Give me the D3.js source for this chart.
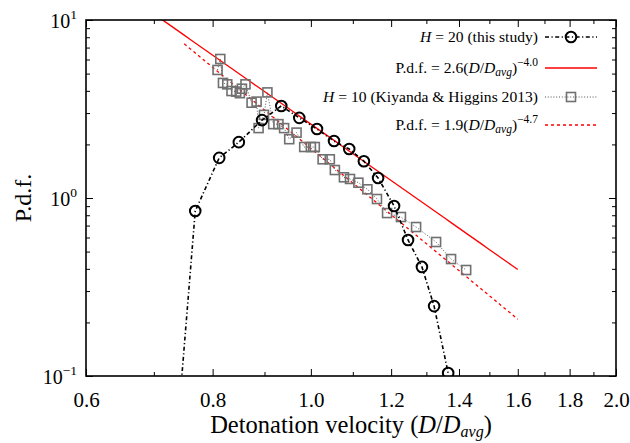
<!DOCTYPE html>
<html>
<head>
<meta charset="utf-8">
<script src="https://cdn.jsdelivr.net/npm/d3@7"></script>
<style>
  html, body { margin: 0; padding: 0; background: #fff; }
  svg { display: block; font-family: "Liberation Serif", "DejaVu Serif", serif; }
</style>
</head>
<body>
<svg id="chart" width="630" height="443"></svg>
<script>
// ---- data ----
const h20X = [0.73, 0.769, 0.812, 0.849, 0.895, 0.935, 0.974, 1.014, 1.054, 1.091, 1.128, 1.165, 1.208, 1.247, 1.287, 1.323, 1.366];
const h20Y = [0.022, 0.845, 1.68, 2.06, 2.74, 3.29, 2.82, 2.44, 2.09, 1.885, 1.61, 1.295, 0.902, 0.581, 0.41, 0.247, 0.104];

const h10X = [0.809, 0.814, 0.819, 0.827, 0.835, 0.844, 0.851, 0.855, 0.862, 0.874, 0.884, 0.888, 0.899, 0.906, 0.918, 0.929, 0.941, 0.952, 0.968, 0.985, 1.000, 1.009, 1.027, 1.044, 1.056, 1.078, 1.093, 1.114, 1.137, 1.162, 1.189, 1.227, 1.270, 1.329, 1.375, 1.423];
const h10Y = [5.24, 6.04, 4.43, 4.35, 3.99, 3.96, 3.88, 4.11, 4.35, 3.43, 3.48, 2.47, 2.93, 3.92, 2.60, 2.60, 2.47, 2.14, 2.33, 1.934, 1.934, 1.934, 1.65, 1.65, 1.436, 1.307, 1.279, 1.219, 1.119, 0.987, 0.823, 0.782, 0.687, 0.566, 0.454, 0.394];

// power-law fits: P.d.f. = a (D/Davg)^b
const fitA = { coef: 2.6, exp: -4.0, from: 0.70, to: 1.6 };
const fitB = { coef: 1.9, exp: -4.7, from: 0.75, to: 1.6 };

const xMajor = [0.6, 0.8, 1.0, 1.2, 1.4, 1.6, 1.8, 2.0];
const xMinor = [0.7, 0.9, 1.1, 1.3, 1.5, 1.7, 1.9];
const xTickLabels = ["0.6", "0.8", "1.0", "1.2", "1.4", "1.6", "1.8", "2.0"];
const yMajor = [0.1, 1, 10];
const yMinor = [0.2, 0.3, 0.4, 0.5, 0.6, 0.7, 0.8, 0.9, 2, 3, 4, 5, 6, 7, 8, 9];
const yTickExp = ["\u22121", "0", "1"];

const legendLabels = ["H = 20 (this study)", "P.d.f. = 2.6(D/Davg)^-4.0", "H = 10 (Kiyanda & Higgins 2013)", "P.d.f. = 1.9(D/Davg)^-4.7"];

// ---- layout ----
const L = 86, R = 616, T = 20, B = 376;
const svg = d3.select("#chart");
const x = d3.scaleLog().domain([0.6, 2.0]).range([L, R]);
const y = d3.scaleLog().domain([0.1, 10]).range([B, T]);

svg.append("defs").append("clipPath").attr("id", "clip")
  .append("rect").attr("x", L).attr("y", T).attr("width", R - L).attr("height", B - T);

const plot = svg.append("g").attr("clip-path", "url(#clip)");

// fit lines
function fitPts(f) {
  const n = 60, pts = [];
  for (let i = 0; i <= n; i++) {
    const v = Math.exp(Math.log(f.from) + (Math.log(f.to) - Math.log(f.from)) * i / n);
    pts.push([v, f.coef * Math.pow(v, f.exp)]);
  }
  return pts;
}
const line = d3.line().x(d => x(d[0])).y(d => y(d[1]));

plot.append("path").datum(fitPts(fitA)).attr("d", line)
  .attr("fill", "none").attr("stroke", "#ff0000").attr("stroke-width", 1.3);
plot.append("path").datum(fitPts(fitB)).attr("d", line)
  .attr("fill", "none").attr("stroke", "#ff0000").attr("stroke-width", 1.3)
  .attr("stroke-dasharray", "3,3");

// H=10 squares series
const h10 = h10X.map((v, i) => [v, h10Y[i]]);
plot.append("path").datum(h10).attr("d", line)
  .attr("fill", "none").attr("stroke", "#555").attr("stroke-width", 1)
  .attr("stroke-dasharray", "1,1.8");
plot.selectAll("rect.sq").data(h10).enter().append("rect").attr("class", "sq")
  .attr("x", d => x(d[0]) - 4.5).attr("y", d => y(d[1]) - 4.5)
  .attr("width", 9).attr("height", 9)
  .attr("fill", "none").attr("stroke", "#707070").attr("stroke-width", 1.6);

// H=20 circles series
const h20 = h20X.map((v, i) => [v, h20Y[i]]);
plot.append("path").datum(h20).attr("d", line)
  .attr("fill", "none").attr("stroke", "#000").attr("stroke-width", 1.6)
  .attr("stroke-dasharray", "4,2.5,1.2,2.5");
plot.selectAll("circle.c").data(h20.filter(d => d[1] >= 0.1)).enter().append("circle").attr("class", "c")
  .attr("cx", d => x(d[0])).attr("cy", d => y(d[1])).attr("r", 5.3)
  .attr("fill", "none").attr("stroke", "#000").attr("stroke-width", 2);

// ---- axes (ticks inward) ----
function styleAxis(g) {
  g.select(".domain").remove();
  g.selectAll("line").attr("stroke", "#000").attr("stroke-width", 1);
}
svg.append("g").attr("transform", `translate(0,${B})`)
  .call(d3.axisBottom(x).tickValues(xMajor).tickSize(-7).tickPadding(24)
    .tickFormat((d, i) => xTickLabels[i]))
  .call(styleAxis)
  .call(g => g.selectAll("text").attr("font-size", 21).attr("fill", "#000")
    .attr("font-family", "Liberation Serif, serif").attr("dy", "0.35em"));
svg.append("g").attr("transform", `translate(0,${B})`)
  .call(d3.axisBottom(x).tickValues(xMinor).tickSize(-4).tickFormat(""))
  .call(styleAxis);
svg.append("g").attr("transform", `translate(0,${T})`)
  .call(d3.axisTop(x).tickValues(xMajor).tickSize(-7).tickFormat(""))
  .call(styleAxis);
svg.append("g").attr("transform", `translate(0,${T})`)
  .call(d3.axisTop(x).tickValues(xMinor).tickSize(-4).tickFormat(""))
  .call(styleAxis);

const yAx = svg.append("g").attr("transform", `translate(${L},0)`)
  .call(d3.axisLeft(y).tickValues(yMajor).tickSize(-7).tickPadding(9).tickFormat(""))
  .call(styleAxis);
yAx.selectAll(".tick").each(function (d, i) {
  const t = d3.select(this).append("text")
    .attr("x", -9).attr("y", 7).attr("text-anchor", "end")
    .attr("font-size", 20).attr("fill", "#000").attr("font-family", "Liberation Serif, serif");
  t.append("tspan").text("10");
  t.append("tspan").attr("dy", -9).attr("font-size", 13.5).text(yTickExp[i]);
});
svg.append("g").attr("transform", `translate(${L},0)`)
  .call(d3.axisLeft(y).tickValues(yMinor).tickSize(-4).tickFormat(""))
  .call(styleAxis);
svg.append("g").attr("transform", `translate(${R},0)`)
  .call(d3.axisRight(y).tickValues(yMajor).tickSize(-7).tickFormat(""))
  .call(styleAxis);
svg.append("g").attr("transform", `translate(${R},0)`)
  .call(d3.axisRight(y).tickValues(yMinor).tickSize(-4).tickFormat(""))
  .call(styleAxis);

// frame
svg.append("rect").attr("x", L).attr("y", T).attr("width", R - L).attr("height", B - T)
  .attr("fill", "none").attr("stroke", "#000").attr("stroke-width", 1.6);

// axis titles
const xt = svg.append("text").attr("x", 351).attr("y", 433)
  .attr("text-anchor", "middle").attr("font-size", 24.5).attr("fill", "#000");
xt.append("tspan").text("Detonation velocity (");
xt.append("tspan").attr("font-style", "italic").text("D");
xt.append("tspan").text("/");
xt.append("tspan").attr("font-style", "italic").text("D");
xt.append("tspan").attr("font-style", "italic").attr("font-size", 16).attr("dy", 3.5).text("avg");
xt.append("tspan").attr("dy", -3.5).text(")");

svg.append("text").attr("transform", `translate(31,${(T + B) / 2}) rotate(-90)`)
  .attr("text-anchor", "middle").attr("font-size", 24).attr("fill", "#000").text("P.d.f.");

// ---- legend ----
const legX = 538, symX0 = 545, symX1 = 597;
const rows = [37, 68, 97, 125];
const lg = svg.append("g");
function pdfText(t, coef, exp) {
  t.append("tspan").text("P.d.f. = " + coef + "(");
  t.append("tspan").attr("font-style", "italic").text("D");
  t.append("tspan").text("/");
  t.append("tspan").attr("font-style", "italic").text("D");
  t.append("tspan").attr("font-style", "italic").attr("font-size", 11.5).attr("dy", 3).text("avg");
  t.append("tspan").attr("dy", -3).text(")");
  t.append("tspan").attr("font-size", 11.5).attr("dy", -7).text(exp);
}
legendLabels.forEach((lab, i) => {
  const t = lg.append("text").attr("x", legX).attr("y", rows[i] + 5)
    .attr("text-anchor", "end").attr("font-size", 15.6).attr("fill", "#000");
  if (i === 0 || i === 2) {
    t.append("tspan").attr("font-style", "italic").text("H");
    t.append("tspan").text(lab.slice(1));
  } else if (i === 1) {
    pdfText(t, fitA.coef.toFixed(1), "\u2212" + Math.abs(fitA.exp).toFixed(1));
  } else {
    pdfText(t, fitB.coef.toFixed(1), "\u2212" + Math.abs(fitB.exp).toFixed(1));
  }
});
// symbols
lg.append("line").attr("x1", symX0).attr("x2", symX1).attr("y1", rows[0]).attr("y2", rows[0])
  .attr("stroke", "#000").attr("stroke-width", 1.6).attr("stroke-dasharray", "4,2.5,1.2,2.5");
lg.append("circle").attr("cx", (symX0 + symX1) / 2).attr("cy", rows[0]).attr("r", 5.3)
  .attr("fill", "none").attr("stroke", "#000").attr("stroke-width", 2);
lg.append("line").attr("x1", symX0).attr("x2", symX1).attr("y1", rows[1]).attr("y2", rows[1])
  .attr("stroke", "#ff0000").attr("stroke-width", 1.3);
lg.append("line").attr("x1", symX0).attr("x2", symX1).attr("y1", rows[2]).attr("y2", rows[2])
  .attr("stroke", "#555").attr("stroke-width", 1).attr("stroke-dasharray", "1,1.8");
lg.append("rect").attr("x", (symX0 + symX1) / 2 - 4.5).attr("y", rows[2] - 4.5).attr("width", 9).attr("height", 9)
  .attr("fill", "none").attr("stroke", "#707070").attr("stroke-width", 1.6);
lg.append("line").attr("x1", symX0).attr("x2", symX1).attr("y1", rows[3]).attr("y2", rows[3])
  .attr("stroke", "#ff0000").attr("stroke-width", 1.3).attr("stroke-dasharray", "3,3");
</script>
</body>
</html>
